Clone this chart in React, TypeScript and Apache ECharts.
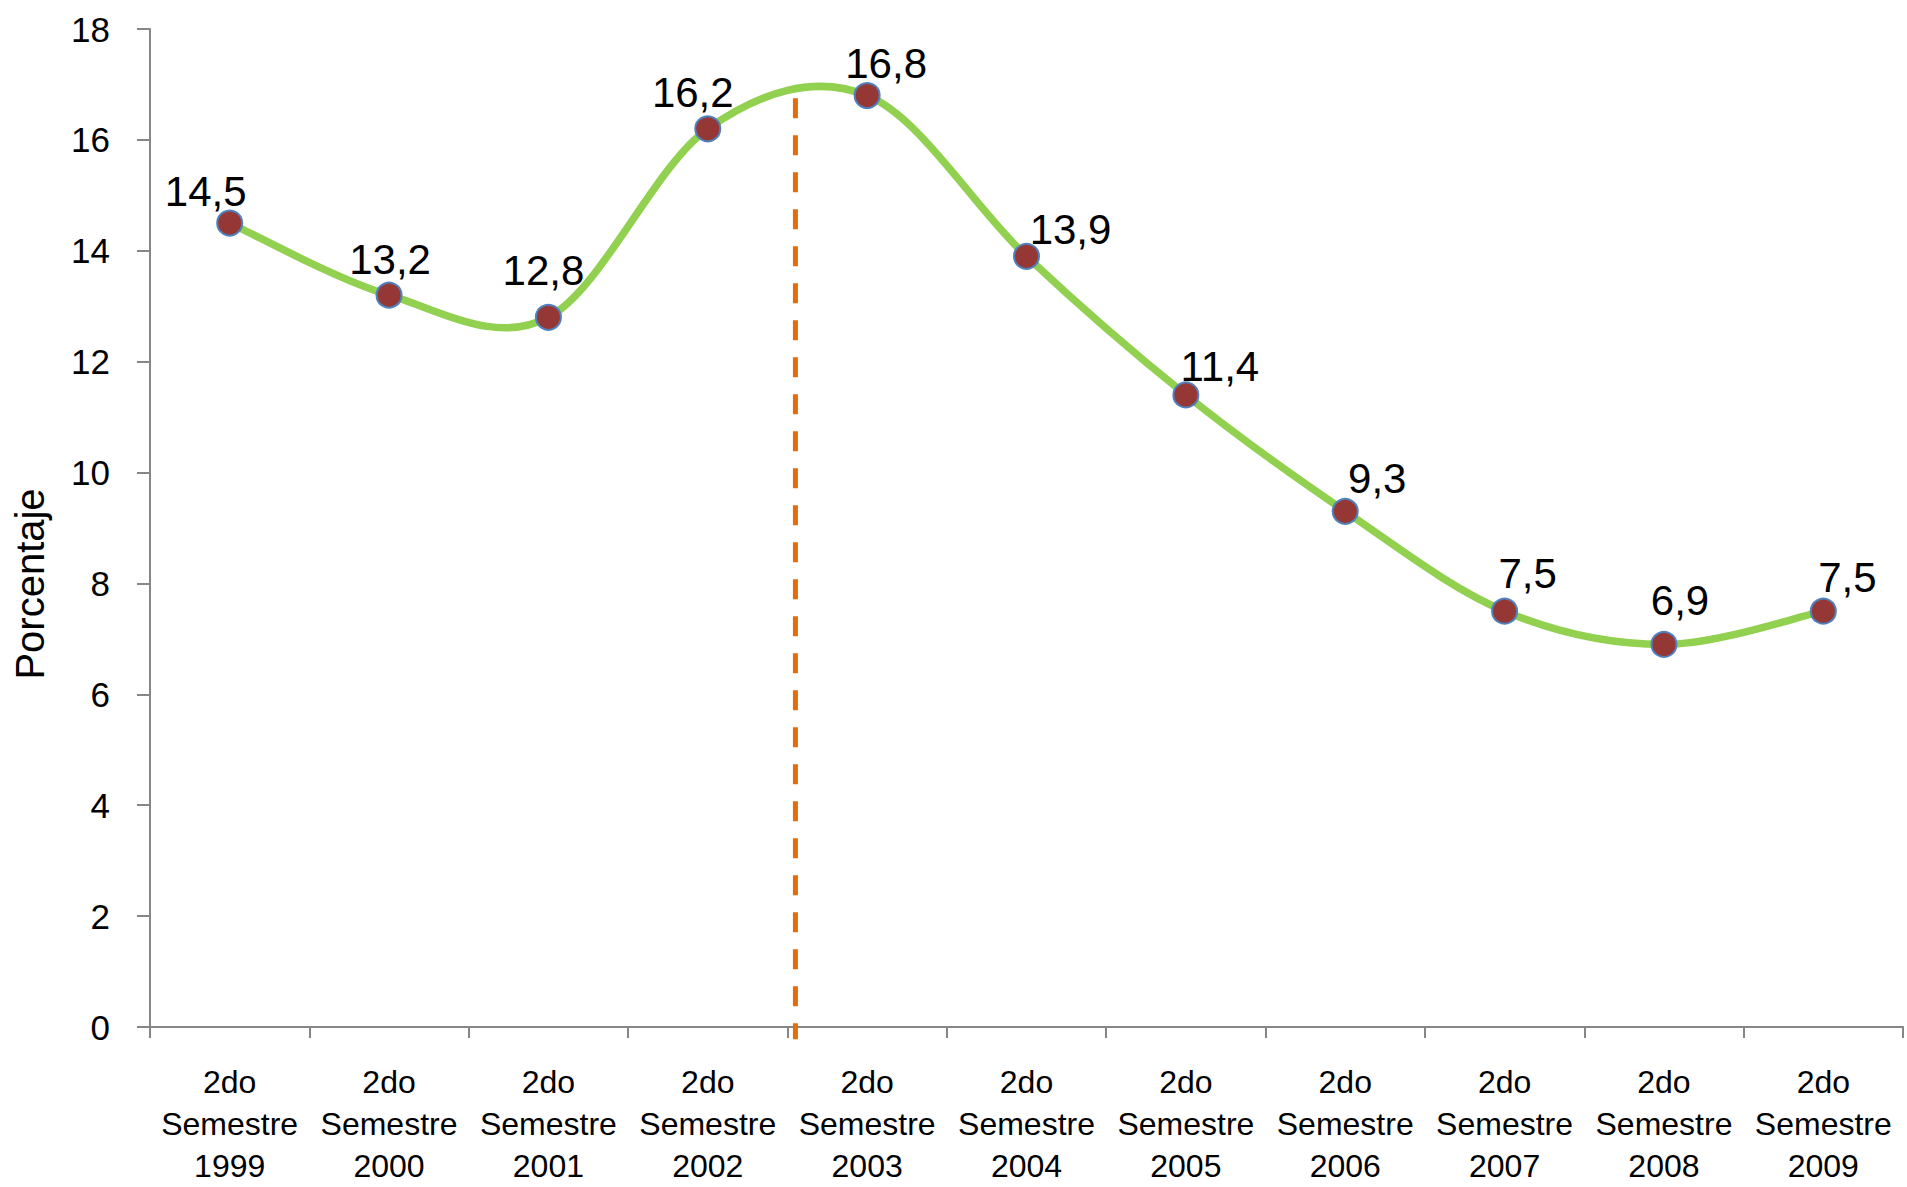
import React, { useEffect, useRef } from "react";
import * as echarts from "echarts";

const categories = [
  "2do\nSemestre\n1999",
  "2do\nSemestre\n2000",
  "2do\nSemestre\n2001",
  "2do\nSemestre\n2002",
  "2do\nSemestre\n2003",
  "2do\nSemestre\n2004",
  "2do\nSemestre\n2005",
  "2do\nSemestre\n2006",
  "2do\nSemestre\n2007",
  "2do\nSemestre\n2008",
  "2do\nSemestre\n2009",
];
const values = [14.5, 13.2, 12.8, 16.2, 16.8, 13.9, 11.4, 9.3, 7.5, 6.9, 7.5];
const yTicks = [0, 2, 4, 6, 8, 10, 12, 14, 16, 18];
// reference divider between 2002 and 2003 (category index space)
const dividerX = 3.55;
const dividerY = [16.75, -0.22];
// label nudges (style only) [dx, dy] relative to marker center
const labelNudge = [
  [-24, -32], [1, -36], [-5, -47], [-15, -36], [19, -32], [44, -27],
  [34, -28], [32, -33], [23, -38], [16, -44], [24, -34],
];

const FONT = "'Liberation Sans', Arial, sans-serif";

export default function App() {
  const ref = useRef<HTMLDivElement>(null);
  useEffect(() => {
    if (!ref.current) return;
    const chart = echarts.init(ref.current, null, { renderer: "svg" });
    const n = values.length;
    chart.setOption({
      animation: false,
      backgroundColor: "#ffffff",
      grid: { left: 150, right: 4, top: 29, bottom: 159, containLabel: false },
      xAxis: [
        {
          type: "category",
          data: categories,
          boundaryGap: true,
          axisLine: { lineStyle: { color: "#868686", width: 2 } },
          axisTick: { show: true, length: 11, lineStyle: { color: "#868686", width: 2 } },
          axisLabel: {
            interval: 0,
            margin: 34,
            color: "#000",
            fontFamily: FONT,
            fontSize: 32,
            lineHeight: 42,
          },
        },
        {
          type: "value",
          min: -0.5,
          max: 10.5,
          show: false,
        },
      ],
      yAxis: {
        type: "value",
        min: yTicks[0],
        max: yTicks[yTicks.length - 1],
        interval: 2,
        name: "Porcentaje",
        nameLocation: "middle",
        nameRotate: 90,
        nameGap: 100,
        nameTextStyle: { color: "#000", fontFamily: FONT, fontSize: 40, padding: [0, 112, 0, 0] },
        splitLine: { show: false },
        axisLine: { show: true, onZero: false, lineStyle: { color: "#868686", width: 2 } },
        axisTick: { show: true, length: 13, lineStyle: { color: "#868686", width: 2 } },
        axisLabel: { margin: 40, color: "#000", fontFamily: FONT, fontSize: 35 },
      },
      series: [
        {
          type: "line",
          xAxisIndex: 1,
          data: [
            [dividerX, dividerY[0]],
            [dividerX, dividerY[1]],
          ],
          clip: false,
          symbol: "none",
          silent: true,
          lineStyle: { color: "#E46C0A", width: 5, type: [20, 17] },
          z: 1,
        },
        {
          type: "custom",
          xAxisIndex: 0,
          silent: true,
          data: values.map((v, i) => [i, v]),
          encode: { x: 0, y: 1 },
          clip: false,
          renderItem: (params: any, api: any) => {
            const i = params.dataIndex;
            if (i >= n - 1) return null;
            const i0 = Math.max(i - 1, 0);
            const i3 = Math.min(i + 2, n - 1);
            const p0 = api.coord([i0, values[i0]]);
            const p1 = api.coord([i, values[i]]);
            const p2 = api.coord([i + 1, values[i + 1]]);
            const p3 = api.coord([i3, values[i3]]);
            return {
              type: "bezierCurve",
              shape: {
                x1: p1[0],
                y1: p1[1],
                x2: p2[0],
                y2: p2[1],
                cpx1: p1[0] + (p2[0] - p0[0]) / 6,
                cpy1: p1[1] + (p2[1] - p0[1]) / 6,
                cpx2: p2[0] - (p3[0] - p1[0]) / 6,
                cpy2: p2[1] - (p3[1] - p1[1]) / 6,
              },
              style: { stroke: "#92D050", lineWidth: 7.5, fill: null, lineCap: "round" },
            };
          },
          z: 2,
        },
        {
          type: "line",
          data: values.map((v, i) => ({
            value: v,
            label: { offset: labelNudge[i] },
          })),
          symbol: "circle",
          symbolSize: 25,
          lineStyle: { width: 0, opacity: 0 },
          itemStyle: { color: "#953735", borderColor: "#4F81BD", borderWidth: 2 },
          label: {
            show: true,
            position: "inside",
            color: "#000",
            fontFamily: FONT,
            fontSize: 42,
            formatter: (p: any) => String(p.value).replace(".", ","),
          },
          z: 3,
        },
      ],
    });
    return () => chart.dispose();
  }, []);
  return (
    <div style={{ position: "fixed", left: 0, top: 0, width: 1907, height: 1187, background: "#fff" }}>
      <div ref={ref} style={{ width: 1907, height: 1187 }} />
    </div>
  );
}
